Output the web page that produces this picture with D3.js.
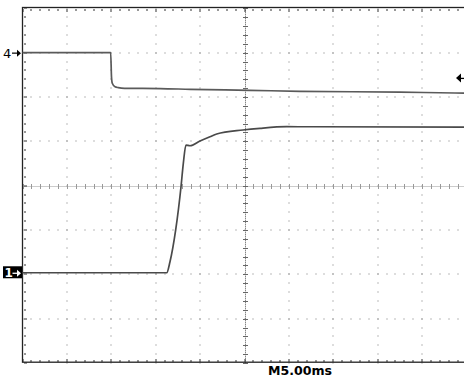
<!DOCTYPE html>
<html><head><meta charset="utf-8">
<script src="https://cdn.jsdelivr.net/npm/d3@7/dist/d3.min.js"></script>
<style>html,body{margin:0;padding:0;background:#fff;}svg{display:block;}</style>
</head><body>
<svg id="c" width="464" height="377"></svg>
<script>
// time in ms (M5.00ms per division, 10 divisions), amplitude in divisions
const ch4Time = [-25, -15.07, -14.98, -14.89, -14.58, -14.21, -13.5, -9.5, -6.1, 0.6, 6.25, 17.5, 23.7, 25];
const ch4Div  = [3.0, 3.0, 2.46, 2.31, 2.23, 2.21, 2.195, 2.19, 2.172, 2.15, 2.127, 2.11, 2.09, 2.088];
const ch1Time = [-25, -8.76, -8.39, -7.75, -7.15, -6.89, -6.59, -6.14, -5.01, -3.89, -3.13, -0.17, 1.75, 4.75, 7.4, 25];
const ch1Div  = [-1.965, -1.965, -1.717, -1.0, -0.025, 0.503, 0.916, 0.9, 1.006, 1.103, 1.164, 1.255, 1.293, 1.329, 1.329, 1.32];
const ch4Level = 3.0, ch1Level = -1.965, trigLevel = 2.43;
const timebaseLabel = "M5.00ms";

const svg = d3.select("#c");
const x = d3.scaleLinear().domain([-25, 25]).range([22.5, 466.5]);
const y = d3.scaleLinear().domain([-4, 4]).range([363, 8.3]);

const g = svg.append("g");
const minorT = d3.range(-25, 25.001, 1);
const minorV = d3.range(-4, 4.001, 0.2).map(v => Math.round(v * 10) / 10);
const majorT = d3.range(-20, 21, 5).filter(t => t !== 0);
const majorV = d3.range(-3, 4, 1).filter(v => v !== 0);

// dotted major grid
majorT.forEach(t => {
  minorV.forEach(v => {
    g.append("rect").attr("x", Math.round(x(t)) - 0.5).attr("y", Math.round(y(v)) - 0.5)
      .attr("width", 1).attr("height", 1).attr("fill", "#777");
  });
});
majorV.forEach(v => {
  minorT.forEach(t => {
    g.append("rect").attr("x", Math.round(x(t)) - 0.5).attr("y", Math.round(y(v)) - 0.5)
      .attr("width", 1).attr("height", 1).attr("fill", "#777");
  });
});
// center cross
g.append("line").attr("x1", x(-25)).attr("x2", x(25)).attr("y1", Math.round(y(0)) + 0.5).attr("y2", Math.round(y(0)) + 0.5)
  .attr("stroke", "#999").attr("stroke-dasharray", "1,1");
g.append("line").attr("y1", y(4)).attr("y2", y(-4)).attr("x1", Math.round(x(0)) + 0.5).attr("x2", Math.round(x(0)) + 0.5)
  .attr("stroke", "#555").attr("stroke-dasharray", "1,1");
minorT.forEach(t => {
  g.append("line").attr("x1", Math.round(x(t)) + 0.5).attr("x2", Math.round(x(t)) + 0.5)
    .attr("y1", Math.round(y(0)) - 2).attr("y2", Math.round(y(0)) + 3).attr("stroke", "#999");
});
minorV.forEach(v => {
  g.append("line").attr("y1", Math.round(y(v)) + 0.5).attr("y2", Math.round(y(v)) + 0.5)
    .attr("x1", Math.round(x(0)) - 2).attr("x2", Math.round(x(0)) + 3).attr("stroke", "#666");
});
// border ticks
minorT.forEach(t => {
  const isMaj = Math.abs(t % 5) < 1e-6;
  g.append("rect").attr("x", Math.round(x(t)) - 0.5).attr("y", Math.round(y(4)) + 1)
    .attr("width", 1).attr("height", isMaj ? 3 : 2).attr("fill", "#333");
  g.append("rect").attr("x", Math.round(x(t)) - 0.5).attr("y", Math.round(y(-4)) - (isMaj ? 4 : 3))
    .attr("width", 1).attr("height", isMaj ? 3 : 2).attr("fill", "#333");
});
minorV.forEach(v => {
  const isMaj = Math.abs(v - Math.round(v)) < 1e-6;
  g.append("rect").attr("x", Math.round(x(-25)) + 1).attr("y", Math.round(y(v)) - 0.5)
    .attr("width", isMaj ? 3 : 2).attr("height", 1).attr("fill", "#333");
});
// border
g.append("rect").attr("x", Math.round(x(-25)) - 0.5).attr("y", Math.round(y(4)) - 0.5)
  .attr("width", x(25) - x(-25)).attr("height", y(-4) - y(4))
  .attr("fill", "none").attr("stroke", "#222").attr("stroke-width", 1.3);

// traces
const line = d3.line().x(d => x(d[0])).y(d => y(d[1])).curve(d3.curveMonotoneX);
svg.append("path").datum(ch4Time.map((t, i) => [t, ch4Div[i]]))
  .attr("d", line).attr("fill", "none").attr("stroke", "#5a5a5a").attr("stroke-width", 1.7);
svg.append("path").datum(ch1Time.map((t, i) => [t, ch1Div[i]]))
  .attr("d", line).attr("fill", "none").attr("stroke", "#4a4a4a").attr("stroke-width", 1.7);

// channel markers
const y4 = y(ch4Level);
svg.append("text").attr("x", 3).attr("y", y4 + 5).attr("font-family", "DejaVu Sans").attr("font-size", 13)
  .attr("fill", "#000").text("4");
svg.append("line").attr("x1", 12).attr("x2", 19).attr("y1", y4 + 0.5).attr("y2", y4 + 0.5).attr("stroke", "#000").attr("stroke-width", 1.2);
svg.append("path").attr("d", `M21,${y4 + 0.5} l-4,-3.5 l0,7 z`).attr("fill", "#000");

const y1 = y(ch1Level);
svg.append("rect").attr("x", 3).attr("y", y1 - 6.5).attr("width", 19).attr("height", 12).attr("fill", "#000");
svg.append("text").attr("x", 4.5).attr("y", y1 + 4.5).attr("font-family", "DejaVu Sans").attr("font-weight", "bold").attr("font-size", 12)
  .attr("fill", "#fff").text("1");
svg.append("line").attr("x1", 12.5).attr("x2", 19).attr("y1", y1 + 0.5).attr("y2", y1 + 0.5).attr("stroke", "#fff").attr("stroke-width", 1.3);
svg.append("path").attr("d", `M21,${y1 + 0.5} l-4,-3.5 l0,7 z`).attr("fill", "#fff");

// trigger level marker
const yt = y(trigLevel);
svg.append("path").attr("d", `M456,${yt} L461,${yt - 4.5} L461,${yt + 4.5} Z`).attr("fill", "#000");
svg.append("line").attr("x1", 460).attr("x2", 464).attr("y1", yt + 0.5).attr("y2", yt + 0.5).attr("stroke", "#000").attr("stroke-width", 1.3);

// timebase label
svg.append("text").attr("x", 268).attr("y", 375).attr("font-family", "DejaVu Sans").attr("font-weight", "bold").attr("font-size", 12)
  .attr("textLength", 64).attr("lengthAdjust", "spacingAndGlyphs").attr("fill", "#000").text(timebaseLabel);
</script>
</body></html>
